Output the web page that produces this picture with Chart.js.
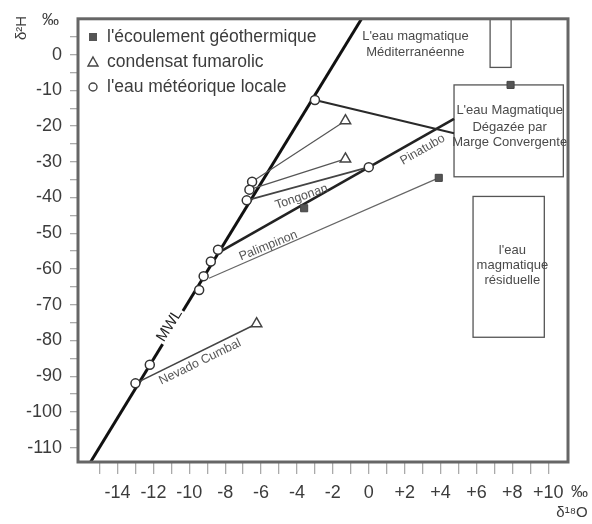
<!DOCTYPE html>
<html><head><meta charset="utf-8">
<script src="https://cdn.jsdelivr.net/npm/chart.js@4.4.1/dist/chart.umd.min.js"></script>
<style>html,body{margin:0;padding:0;background:#fff}#c{display:block}</style>
</head><body>
<canvas id="c" width="592" height="524"></canvas>
<script>
// ---- data ----
const mwlX = [-15.5, -0.4];
const mwlY = [-114, 10];

const circleX = [-3.0, -6.5, -6.65, -6.8, -8.4, -8.8, -9.2, -9.45, -12.2, -13.0, 0.0];
const circleY = [-12.7, -35.6, -37.8, -40.8, -54.6, -57.9, -62.0, -65.9, -86.8, -92.0, -31.5];

const triangleX = [-1.3, -1.3, -6.25];
const triangleY = [-18.5, -29.2, -75.3];

const squareX = [7.9, 3.9, -3.6];
const squareY = [-8.5, -34.5, -43.0];

const segName = ['merapi', 'tong1', 'tong2', 'tong3', 'pinatubo', 'palimpinon', 'nevado'];
const segX0 = [-3.0, -6.5, -6.65, -6.8, -8.4, -8.9, -13.0];
const segY0 = [-12.7, -35.6, -37.8, -40.8, -55.5, -62.6, -92.0];
const segX1 = [4.75, -1.3, -1.3, 0.0, 4.75, 3.9, -6.25];
const segY1 = [-22.0, -18.5, -29.2, -31.5, -18.0, -34.5, -75.3];

const boxX0 = [6.76, 4.75, 5.81];
const boxX1 = [7.93, 10.84, 9.78];
const boxY0 = [10, -8.5, -39.7];
const boxY1 = [-3.6, -34.2, -79.1];

const boxTextX = [2.6, 7.85, 8.0];
const boxTextY = [[5.0, 0.6], [-15.7, -20.4, -24.6], [-54.9, -59.0, -63.1]];
const boxText = [["L'eau magmatique", 'Méditerranéenne'],
                 ["L'eau Magmatique", 'Dégazée par', 'Marge Convergente'],
                 ["l'eau", 'magmatique', 'résiduelle']];

const lineLabel = ['MWL', 'Tongonan', 'Palimpinon', 'Pinatubo', 'Nevado Cumbal'];
const lineLabelX = [-11.1, -3.75, -5.6, 3.0, -9.4];
const lineLabelY = [-75.8, -39.8, -53.5, -26.6, -86.0];
const lineLabelAngle = [-58, -19, -22, -30, -26];

const legendLabels = ["l'écoulement géothermique", 'condensat fumarolic', "l'eau météorique locale"];

const xTickValues = [-15, -14, -13, -12, -11, -10, -9, -8, -7, -6, -5, -4, -3, -2, -1, 0, 1, 2, 3, 4, 5, 6, 7, 8, 9, 10];
const yTickValues = [5, 0, -5, -10, -15, -20, -25, -30, -35, -40, -45, -50, -55, -60, -65, -70, -75, -80, -85, -90, -95, -100, -105, -110];

// ---- styles ----
const segStyle = {
  merapi: {w: 2, c: '#2a2a2a'},
  tong1: {w: 1.2, c: '#555'},
  tong2: {w: 1.2, c: '#555'},
  tong3: {w: 1.6, c: '#444'},
  pinatubo: {w: 2.6, c: '#222'},
  palimpinon: {w: 1.2, c: '#666'},
  nevado: {w: 1.6, c: '#444'}
};
const FONT = '"Liberation Sans", Arial, sans-serif';
const TXT = '#3c3c3c';

const zip = (xs, ys) => xs.map((x, i) => ({x, y: ys[i]}));

const datasets = [];
datasets.push({label: 'squares', data: zip(squareX, squareY), pointStyle: 'rect', pointRadius: 5,
  backgroundColor: '#555', borderColor: '#444', borderWidth: 1, showLine: false, order: 1});
datasets.push({label: 'triangles', data: zip(triangleX, triangleY), pointStyle: 'triangle', pointRadius: 6,
  backgroundColor: '#fff', borderColor: '#444', borderWidth: 1.5, showLine: false, order: 1});
datasets.push({label: 'circles', data: zip(circleX, circleY), pointStyle: 'circle', pointRadius: 4.5,
  backgroundColor: '#fff', borderColor: '#333', borderWidth: 1.5, showLine: false, order: 1});
segName.forEach((n, i) => {
  datasets.push({label: n, data: [{x: segX0[i], y: segY0[i]}, {x: segX1[i], y: segY1[i]}],
    showLine: true, pointRadius: 0, borderColor: segStyle[n].c, borderWidth: segStyle[n].w, order: 5});
});
datasets.push({label: 'MWL', data: zip(mwlX, mwlY), showLine: true, pointRadius: 0,
  borderColor: '#111', borderWidth: 3, order: 6});

const decor = {
  id: 'decor',
  beforeDatasetsDraw(chart) {
    const {ctx, scales: {x, y}} = chart;
    ctx.save();
    ctx.strokeStyle = '#555'; ctx.lineWidth = 1.3;
    for (let i = 0; i < boxX0.length; i++) {
      const l = x.getPixelForValue(boxX0[i]), r = x.getPixelForValue(boxX1[i]);
      const t = y.getPixelForValue(boxY0[i]), b = y.getPixelForValue(boxY1[i]);
      ctx.strokeRect(l, t, r - l, b - t);
    }
    ctx.fillStyle = '#4a4a4a'; ctx.font = '13px ' + FONT;
    ctx.textAlign = 'center'; ctx.textBaseline = 'middle';
    boxText.forEach((lines, i) => {
      lines.forEach((s, j) => ctx.fillText(s, x.getPixelForValue(boxTextX[i]), y.getPixelForValue(boxTextY[i][j])));
    });
    ctx.restore();
  },
  afterDatasetsDraw(chart) {
    const {ctx, scales: {x, y}} = chart;
    ctx.save();
    lineLabel.forEach((s, i) => {
      const px = x.getPixelForValue(lineLabelX[i]), py = y.getPixelForValue(lineLabelY[i]);
      ctx.save();
      ctx.translate(px, py);
      ctx.rotate(lineLabelAngle[i] * Math.PI / 180);
      ctx.textAlign = 'center'; ctx.textBaseline = 'middle';
      if (s === 'MWL') {
        ctx.font = '15px ' + FONT;
        const w = ctx.measureText(s).width;
        ctx.fillStyle = '#fff';
        ctx.fillRect(-w / 2 - 2, -7, w + 4, 14);
        ctx.fillStyle = '#222';
      } else {
        ctx.font = '12.5px ' + FONT;
        ctx.fillStyle = '#555';
      }
      ctx.fillText(s, 0, 0);
      ctx.restore();
    });
    ctx.restore();
  },
  afterDraw(chart) {
    const {ctx, chartArea: a} = chart;
    ctx.save();
    // frame
    ctx.strokeStyle = '#666'; ctx.lineWidth = 3;
    ctx.strokeRect(a.left, a.top, a.right - a.left, a.bottom - a.top);
    // legend
    const lx = a.left + 15, ys = [37, 62, 87];
    ctx.fillStyle = '#555';
    ctx.fillRect(lx - 4, ys[0] - 4, 8, 8);
    ctx.strokeStyle = '#444'; ctx.lineWidth = 1.4; ctx.fillStyle = '#fff';
    ctx.beginPath(); ctx.moveTo(lx, ys[1] - 5); ctx.lineTo(lx + 5, ys[1] + 4); ctx.lineTo(lx - 5, ys[1] + 4); ctx.closePath();
    ctx.fill(); ctx.stroke();
    ctx.beginPath(); ctx.arc(lx, ys[2], 4, 0, Math.PI * 2); ctx.fill(); ctx.stroke();
    ctx.fillStyle = TXT; ctx.font = '17.5px ' + FONT; ctx.textAlign = 'left'; ctx.textBaseline = 'middle';
    legendLabels.forEach((s, i) => ctx.fillText(s, lx + 14, ys[i]));
    // axis titles
    ctx.font = '17px ' + FONT; ctx.fillStyle = TXT;
    ctx.fillText('‰', 42, 20);
    ctx.fillText('‰', 571, 492);
    ctx.save();
    ctx.translate(22, 28); ctx.rotate(-Math.PI / 2);
    ctx.textAlign = 'center'; ctx.font = '15px ' + FONT;
    ctx.fillText('δ²H', 0, 0);
    ctx.restore();
    ctx.textAlign = 'center'; ctx.font = '15px ' + FONT;
    ctx.fillText('δ¹⁸O', 572, 513);
    ctx.restore();
  }
};

new Chart(document.getElementById('c'), {
  type: 'scatter',
  data: {datasets},
  options: {
    responsive: false, animation: false, devicePixelRatio: 1,
    layout: {padding: {top: 12, right: 24, left: 0, bottom: 0}},
    plugins: {legend: {display: false}, tooltip: {enabled: false}},
    scales: {
      x: {
        type: 'linear', min: -16.2, max: 11.1,
        afterFit: s => { s.height = 62; },
        afterBuildTicks: s => { s.ticks = xTickValues.map(v => ({value: v})); },
        border: {display: false},
        grid: {drawOnChartArea: false, drawTicks: true, tickLength: 12, color: '#aaa', lineWidth: 1.3},
        ticks: {
          autoSkip: false, maxRotation: 0, padding: 8, color: TXT,
          font: {family: FONT, size: 18},
          callback: v => (v % 2 === 0 ? (v > 0 ? '+' + v : String(v)) : '')
        }
      },
      y: {
        type: 'linear', min: -114, max: 10,
        afterFit: s => { s.width = 78; },
        afterBuildTicks: s => { s.ticks = yTickValues.map(v => ({value: v})); },
        border: {display: false},
        grid: {drawOnChartArea: false, drawTicks: true, tickLength: 8, color: '#aaa', lineWidth: 1.3},
        ticks: {
          autoSkip: false, padding: 8, color: TXT,
          font: {family: FONT, size: 18},
          callback: v => (v % 10 === 0 ? String(v) : '')
        }
      }
    }
  },
  plugins: [decor]
});
</script>
</body></html>
